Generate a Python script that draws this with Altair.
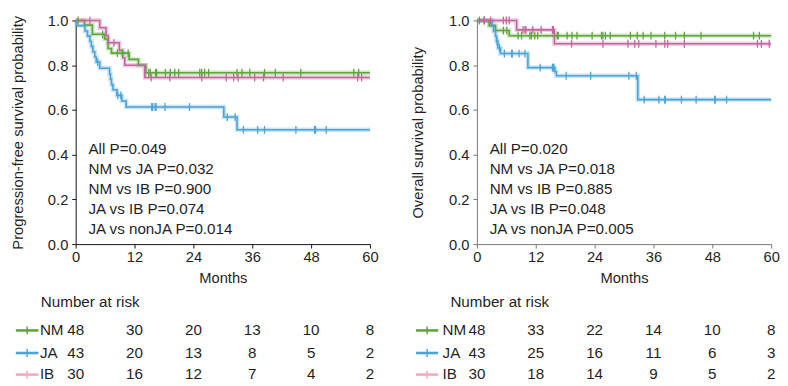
import altair as alt
import pandas as pd

FONT = "Liberation Sans"
TXT = "#1f1f1f"
GROUPS = ["NM", "JA", "IB"]
LINE_COLORS = ["#5ea53a", "#4ba3d6", "#c0689e"]
KEY_COLORS = ["#5ea53a", "#4ba3d6", "#f2a8c2"]
MONTH_TICKS = [0, 12, 24, 36, 48, 60]
PROB_TICKS = [0, 0.2, 0.4, 0.6, 0.8, 1.0]

# ---------------- Progression-free survival (left) ----------------
pfs_nm_t = [0, 1.8, 3.4, 5.9, 6.6, 7.3, 10.9, 12.8, 14.3, 60]
pfs_nm_s = [1.0, 0.979, 0.938, 0.917, 0.875, 0.854, 0.826, 0.800, 0.766, 0.766]
pfs_ja_t = [0, 0.2, 1.9, 2.4, 2.9, 3.2, 3.5, 3.9, 4.2, 4.9, 6.9, 7.1, 7.3, 7.6, 8.4, 9.4, 10.3, 30.2, 32.9, 60]
pfs_ja_s = [1.0, 0.977, 0.953, 0.930, 0.907, 0.884, 0.860, 0.837, 0.814, 0.786, 0.760, 0.737, 0.713,
            0.690, 0.665, 0.640, 0.613, 0.568, 0.511, 0.511]
pfs_ib_t = [0, 4.9, 6.2, 6.6, 8.9, 9.6, 10.0, 14.1, 60]
pfs_ib_s = [1.0, 0.967, 0.933, 0.900, 0.867, 0.833, 0.800, 0.745, 0.745]

pfs_nm_cens = [0.5, 5.5, 8.5, 9.5, 10.7, 14.9, 15.2, 16.3, 16.5, 18.3, 19.3, 20.2, 21.0, 25.3, 25.7,
               26.3, 27.1, 32.9, 33.9, 35.5, 38.5, 40.7, 45.9, 56.7, 57.7]
pfs_ja_cens = [4.5, 8.6, 9.2, 15.5, 15.7, 16.2, 16.4, 18.2, 23.2, 30.9, 32.5, 34.2, 37.1, 38.5, 44.9,
               48.7, 48.9, 51.1]
pfs_ib_cens = [2.9, 7.8, 15.4, 19.2, 25.7, 30.7, 32.2, 33.1, 36.5, 38.3, 42.3, 57.5, 58.3]

pfs_pvals = ["All P=0.049", "NM vs JA P=0.032", "NM vs IB P=0.900", "JA vs IB P=0.074",
             "JA vs nonJA P=0.014"]
pfs_risk_nm = [48, 30, 20, 13, 10, 8]
pfs_risk_ja = [43, 20, 13, 8, 5, 2]
pfs_risk_ib = [30, 16, 12, 7, 4, 2]

# ---------------- Overall survival (right) ----------------
os_nm_t = [0, 2.5, 3.8, 6.6, 60]
os_nm_s = [1.0, 0.977, 0.955, 0.932, 0.932]
os_ja_t = [0, 3.1, 3.4, 3.8, 4.0, 4.3, 4.8, 10.4, 15.9, 16.2, 32.8, 60]
os_ja_s = [1.0, 0.977, 0.953, 0.930, 0.907, 0.877, 0.852, 0.789, 0.771, 0.753, 0.646, 0.646]
os_ib_t = [0, 8.1, 15.8, 60]
os_ib_s = [1.0, 0.958, 0.896, 0.896]

os_nm_cens = [0.5, 1.5, 5.4, 6.1, 8.4, 9.1, 10.8, 11.1, 11.8, 12.4, 16.4, 16.6, 18.4, 19.4, 20.4,
              23.5, 25.4, 25.7, 26.2, 27.2, 31.3, 32.7, 33.9, 35.5, 38.3, 40.5, 42.3, 45.7, 56.4, 57.6]
os_ja_cens = [4.1, 4.6, 5.6, 7.1, 7.2, 8.6, 9.8, 12.9, 15.4, 15.6, 15.7, 18.2, 23.2, 31.0, 32.5,
              34.1, 37.1, 38.3, 38.4, 41.7, 44.7, 48.5, 48.6, 50.9]
os_ib_cens = [1.5, 2.8, 5.4, 6.0, 6.6, 9.4, 9.8, 10.0, 11.4, 13.1, 15.4, 15.6, 19.3, 25.7, 30.8,
              32.2, 33.0, 36.5, 38.3, 38.9, 42.3, 57.2, 58.0, 59.6]

os_pvals = ["All P=0.020", "NM vs JA P=0.018", "NM vs IB P=0.885", "JA vs IB P=0.048",
            "JA vs nonJA P=0.005"]
os_risk_nm = [48, 33, 22, 14, 10, 8]
os_risk_ja = [43, 25, 16, 11, 6, 3]
os_risk_ib = [30, 18, 14, 9, 5, 2]

# ---------------- layout constants ----------------
H = 228
FS = 15.5


def below(px):
    """data-space y for a row sitting px pixels below the x axis"""
    return -px / H


def step_at(times, survs, t):
    v = survs[0]
    for tt, ss in zip(times, survs):
        if tt <= t:
            v = ss
    return v


def panel(curves, censors, pvals, risks, ytitle, dom_color, ytitle_pad, key, width):
    xs = alt.Scale(domain=[0, 60], nice=False, zero=False)
    ys = alt.Scale(domain=[0, 1], nice=False, zero=False)
    xaxis = alt.Axis(values=MONTH_TICKS, title="Months", tickSize=4, labelPadding=2,
                     titlePadding=6, domainColor=dom_color, tickColor=dom_color, labelFlush=False)
    yaxis = alt.Axis(values=PROB_TICKS, format=".1f", title=ytitle, tickSize=4, labelPadding=4,
                     titlePadding=ytitle_pad, domainColor=dom_color, tickColor=dom_color)
    X = lambda f: alt.X(f, type="quantitative", scale=xs, axis=xaxis)
    X2 = lambda f: alt.X2(f)
    Y = lambda f: alt.Y(f, type="quantitative", scale=ys, axis=yaxis)
    col = alt.Color("group:N", scale=alt.Scale(domain=GROUPS, range=LINE_COLORS), legend=None)
    kcol = alt.Color("group:N", scale=alt.Scale(domain=GROUPS, range=KEY_COLORS), legend=None)

    rows = []
    for g, (t, s) in zip(GROUPS, curves):
        for tt, ss in zip(t, s):
            rows.append({"group": g, "t": tt, "s": ss})
    kmdf = pd.DataFrame(rows)

    crow = []
    for g, (t, s), cens in zip(GROUPS, curves, censors):
        for c in cens:
            crow.append({"group": g, "t": c, "s": step_at(t, s, c)})
    cdf = pd.DataFrame(crow)

    pdf = pd.DataFrame({"txt": pvals,
                        "x": [2.6] * len(pvals),
                        "y": [0.427 - 0.0905 * i for i in range(len(pvals))]})

    row_px = [88, 111, 133]
    rrow = []
    for g, r, rp in zip(GROUPS, risks, row_px):
        for m, n in zip(MONTH_TICKS, r):
            rrow.append({"group": g, "x": m, "y": below(rp), "n": str(n)})
    rdf = pd.DataFrame(rrow)
    kdf = pd.DataFrame({"group": GROUPS,
                        "x0": [key["g0"]] * 3, "x1": [key["g1"]] * 3,
                        "xm": [(key["g0"] + key["g1"]) / 2] * 3,
                        "xl": [key["lab"]] * 3,
                        "y": [below(p) for p in row_px]})
    hdf = pd.DataFrame({"txt": ["Number at risk"], "x": [key["head"]], "y": [below(59)]})

    halo = alt.Chart(kmdf).mark_line(interpolate="step-after", strokeWidth=4.5, opacity=0.3).encode(
        x=X("t"), y=Y("s"), color=col, detail="group:N")
    line = alt.Chart(kmdf).mark_line(interpolate="step-after", strokeWidth=1.6).encode(
        x=X("t"), y=Y("s"), color=col, detail="group:N")
    ticks = alt.Chart(cdf).mark_point(shape="M0,-1L0,1", size=64, filled=False, strokeWidth=1.3,
                                      opacity=1).encode(x=X("t"), y=Y("s"), color=col)
    ptxt = alt.Chart(pdf).mark_text(align="left", baseline="middle", fontSize=FS, font=FONT,
                                    color=TXT).encode(x=X("x"), y=Y("y"), text="txt:N")
    nums = alt.Chart(rdf).mark_text(align="center", baseline="middle", fontSize=FS, font=FONT,
                                    color=TXT).encode(x=X("x"), y=Y("y"), text="n:N")
    labs = alt.Chart(kdf).mark_text(align="left", baseline="middle", fontSize=FS, font=FONT,
                                    color=TXT).encode(x=X("xl"), y=Y("y"), text="group:N")
    krule = alt.Chart(kdf).mark_rule(strokeWidth=2.6).encode(
        x=X("x0"), x2=X2("x1"), y=Y("y"), color=kcol)
    kmark = alt.Chart(kdf).mark_point(shape="M0,-1L0,1", size=64, filled=False, strokeWidth=1.5,
                                      opacity=1).encode(x=X("xm"), y=Y("y"), color=kcol)
    head = alt.Chart(hdf).mark_text(align="left", baseline="middle", fontSize=FS, font=FONT,
                                    color=TXT).encode(x=X("x"), y=Y("y"), text="txt:N")

    return alt.layer(halo, line, ticks, ptxt, nums, labs, krule, kmark, head).resolve_scale(
        color="independent").properties(width=width, height=H)


left = panel([(pfs_nm_t, pfs_nm_s), (pfs_ja_t, pfs_ja_s), (pfs_ib_t, pfs_ib_s)],
             [pfs_nm_cens, pfs_ja_cens, pfs_ib_cens], pfs_pvals,
             [pfs_risk_nm, pfs_risk_ja, pfs_risk_ib],
             "Progression-free survival probability", "#111111", 22,
             {"g0": -12.2, "g1": -7.6, "lab": -7.3, "head": -7.1}, 300)
right = panel([(os_nm_t, os_nm_s), (os_ja_t, os_ja_s), (os_ib_t, os_ib_s)],
              [os_nm_cens, os_ja_cens, os_ib_cens], os_pvals,
              [os_risk_nm, os_risk_ja, os_risk_ib],
              "Overall survival probability", "#777777", 24,
              {"g0": -12.4, "g1": -7.9, "lab": -7.0, "head": -5.4}, 300)

chart = alt.hconcat(left, right, spacing=32).properties(
    padding={"left": 3, "top": 0, "right": 0, "bottom": 2}
).configure_view(stroke=None).configure_axis(
    labelFont=FONT, titleFont=FONT, labelFontSize=15, titleFontSize=15, grid=False,
    titleFontWeight="normal", labelColor=TXT, titleColor=TXT)

chart.save("out.html", embed_options={"renderer": "svg", "actions": False})
